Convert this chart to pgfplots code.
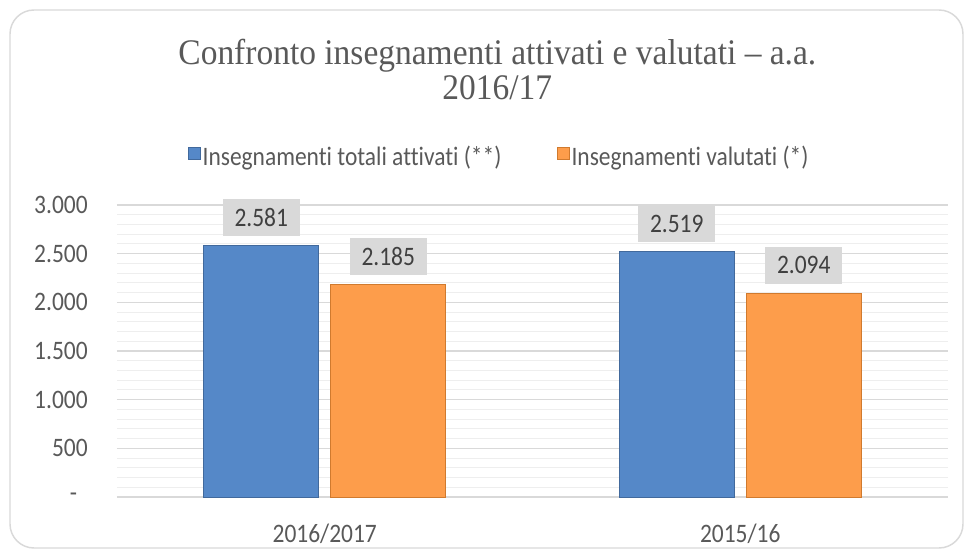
\documentclass[border=0pt]{standalone}
\usepackage{pgfplots}
\pgfplotsset{compat=1.18}
\usepackage{fontspec}
\setmainfont{Carlito}[FakeStretch=0.88, Ligatures={NoCommon}]
\newfontfamily\titlefont{Liberation Serif}[FakeStretch=0.93]
\definecolor{barblue}{HTML}{5588C8}
\definecolor{barblueedge}{HTML}{41699C}
\definecolor{barorange}{HTML}{FD9D4B}
\definecolor{barorangeedge}{HTML}{D07A2E}
\definecolor{gridmajor}{HTML}{D9D9D9}
\definecolor{gridminor}{HTML}{EEEEEE}
\definecolor{textgray}{HTML}{595959}
\definecolor{labelgray}{HTML}{D9D9D9}
\definecolor{labeltext}{HTML}{404040}
\begin{document}
\begin{tikzpicture}
\path[use as bounding box] (0,0) rectangle (728.25pt,-416.25pt);
\draw[gridmajor, line width=1.1pt, rounded corners=18pt] (7.5pt,-7.5pt) rectangle (722.25pt,-411pt);
\begin{axis}[
  at={(87.75pt,-372.75pt)}, anchor=south west,
  scale only axis, width=623.25pt, height=219pt,
  xmin=-0.5, xmax=1.5, ymin=0, ymax=3000,
  ybar=9pt, bar width=86.25pt,
  axis x line*=bottom, axis y line*=left,
  y axis line style={draw=none},
  x axis line style={draw=gridmajor, line width=1.1pt},
  xtick={0,1}, xticklabels={2016/2017,2015/16},
  xtick style={draw=none},
  extra x ticks={-0.5,0.5,1.5}, extra x tick labels={},
  extra x tick style={tick style={draw=gridmajor, line width=1pt}, major tick length=6pt, tick align=outside, xmajorgrids=false},
  ytick={0,500,1000,1500,2000,2500,3000},
  yticklabels={{-\hspace*{8pt}},500,1.000,1.500,2.000,2.500,3.000},
  ytick style={draw=none},
  minor y tick num=4,
  ymajorgrids, yminorgrids,
  major grid style={draw=gridmajor, line width=1.1pt},
  minor grid style={draw=gridminor, line width=0.8pt},
  tick label style={font=\fontsize{20}{24}\selectfont, text=textgray},
  xticklabel style={anchor=base, yshift=-30pt},
  yticklabel style={anchor=east, inner sep=0pt, xshift=-21.75pt},
  /pgf/number format/.cd, 1000 sep={.}, assume math mode=true, /pgfplots/.cd,
  nodes near coords,
  nodes near coords style={fill=labelgray, text=labeltext, font=\fontsize{20}{24}\selectfont, minimum width=57.75pt, minimum height=27.75pt, inner sep=0pt, anchor=south, yshift=6.75pt},
  legend style={at={(axis description cs:0.46,1.164)}, anchor=center, draw=none, fill=none, legend columns=2, font=\fontsize{20}{24}\selectfont, text=textgray, /tikz/every even column/.append style={column sep=40pt}, cells={anchor=west}, nodes={inner xsep=1.5pt}},
  clip=false,
]
\addplot[fill=barblue, draw=barblueedge, line width=0.6pt,
  legend image code/.code={\draw[fill=barblue, draw=barblueedge, line width=0.5pt] (0pt,-1.5pt) rectangle (9pt,7.5pt);}]
  coordinates {(0,2581) (1,2519)};
\addplot[fill=barorange, draw=barorangeedge, line width=0.6pt,
  legend image code/.code={\draw[fill=barorange, draw=barorangeedge, line width=0.5pt] (0pt,-1.5pt) rectangle (9pt,7.5pt);}]
  coordinates {(0,2185) (1,2094)};
\legend{Insegnamenti totali attivati (**), Insegnamenti valutati (*)}
\end{axis}
\node[anchor=base, text=textgray, font=\titlefont\fontsize{27}{32}\selectfont, inner sep=0pt] at (373pt,-48.75pt) {Confronto insegnamenti attivati e valutati – a.a.};
\node[anchor=base, text=textgray, font=\titlefont\fontsize{27}{32}\selectfont, inner sep=0pt] at (373pt,-74.5pt) {2016/17};
\end{tikzpicture}
\end{document}
